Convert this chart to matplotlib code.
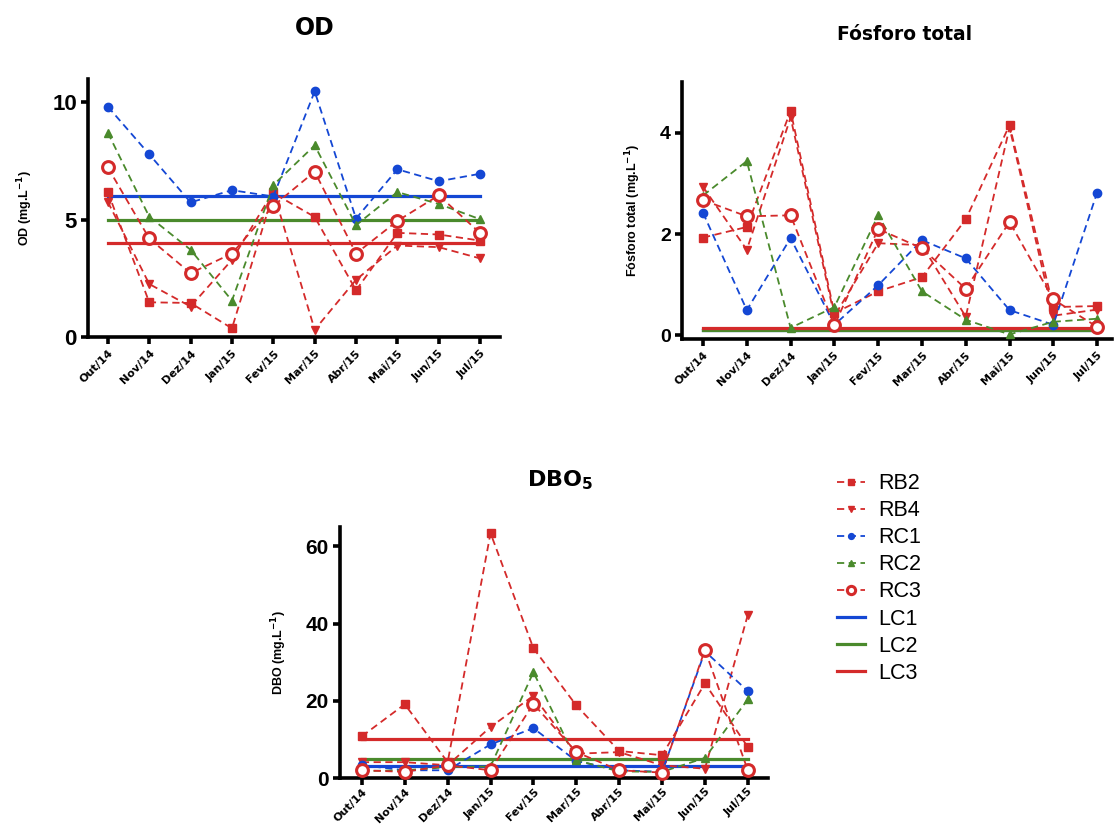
import numpy as np
import matplotlib
matplotlib.use("Agg")
import matplotlib.pyplot as plt

plt.rcParams['font.family'] = ['Liberation Sans', 'DejaVu Sans']

months = ["Out/14", "Nov/14", "Dez/14", "Jan/15", "Fev/15",
          "Mar/15", "Abr/15", "Mai/15", "Jun/15", "Jul/15"]

# OD (mg/L)
od_rb2 = [6.18, 1.48, 1.45, 0.37, 6.13, 5.12, 1.99, 4.44, 4.37, 4.11]
od_rb4 = [5.76, 2.26, 1.30, 3.29, 6.20, 0.31, 2.44, 3.90, 3.83, 3.35]
od_rc1 = [9.82, 7.79, 5.74, 6.26, 5.99, 10.47, 5.05, 7.15, 6.64, 6.96]
od_rc2 = [8.71, 5.13, 3.72, 1.55, 6.48, 8.17, 4.77, 6.18, 5.67, 5.02]
od_rc3 = [7.23, 4.20, 2.72, 3.56, 5.59, 7.05, 3.56, 4.95, 6.04, 4.43]
od_lc = [6, 5, 4]

# Fosforo total (mg/L)
pt_rb2 = [1.93, 2.14, 4.43, 0.44, 0.87, 1.15, 2.29, 4.15, 0.56, 0.58]
pt_rb4 = [2.93, 1.69, 4.30, 0.38, 1.82, 1.78, 0.37, 4.10, 0.39, 0.51]
pt_rc1 = [2.42, 0.50, 1.92, 0.21, 0.99, 1.88, 1.52, 0.50, 0.21, 2.82]
pt_rc2 = [2.76, 3.44, 0.15, 0.56, 2.37, 0.87, 0.31, 0.02, 0.27, 0.33]
pt_rc3 = [2.67, 2.35, 2.37, 0.20, 2.10, 1.72, 0.92, 2.24, 0.71, 0.17]
pt_lc = [0.1, 0.1, 0.15]

# DBO5 (mg/L)
dbo_rb2 = [10.8, 19.1, 4.1, 63.4, 33.6, 18.8, 7.0, 5.9, 24.5, 8.0]
dbo_rb4 = [4.1, 4.1, 3.3, 13.2, 21.3, 6.3, 6.7, 3.3, 2.4, 42.3]
dbo_rc1 = [3.3, 2.0, 2.0, 8.7, 12.9, 4.4, 2.0, 1.6, 32.8, 22.5]
dbo_rc2 = [1.8, 2.0, 2.8, 3.0, 27.4, 4.6, 1.7, 1.6, 5.2, 20.4]
dbo_rc3 = [2.0, 1.6, 3.3, 2.0, 19.2, 6.7, 2.0, 1.4, 33.2, 2.0]
dbo_lc = [3, 5, 10]

red = '#d42a2a'
blue = '#1447d4'
green = '#4a8a2c'

W, H = 1120, 825
fig = plt.figure(figsize=(W / 100, H / 100), dpi=100)


def px_axes(l, t, r, b):
    return fig.add_axes([l / W, 1 - b / H, (r - l) / W, (b - t) / H])


def draw(ax, rb2, rb4, rc1, rc2, rc3, lc, ylim, yticks, ylabel, xlim, ytick_fs, xpad=3):
    x = np.arange(len(months))
    dash = (0, (4, 2.5))
    ax.plot(x, rb2, ls=dash, color=red, marker='s', ms=6, lw=1.3, label='RB2', clip_on=False, zorder=4)
    ax.plot(x, rb4, ls=dash, color=red, marker='v', ms=6, lw=1.3, label='RB4', clip_on=False, zorder=4)
    ax.plot(x, rc1, ls=dash, color=blue, marker='o', ms=6, lw=1.3, label='RC1', clip_on=False, zorder=4)
    ax.plot(x, rc2, ls=dash, color=green, marker='^', ms=6, lw=1.3, label='RC2', clip_on=False, zorder=4)
    ax.plot(x, rc3, ls=dash, color=red, marker='o', ms=8.5, mfc='white', mec=red, mew=2.2, lw=1.3,
            label='RC3', clip_on=False, zorder=4)
    ax.plot([0, 9], [lc[0]] * 2, color=blue, lw=2.3, label='LC1', zorder=3)
    ax.plot([0, 9], [lc[1]] * 2, color=green, lw=2.3, label='LC2', zorder=3)
    ax.plot([0, 9], [lc[2]] * 2, color=red, lw=2.3, label='LC3', zorder=3)
    ax.set_xlim(*xlim)
    ax.set_ylim(*ylim)
    ax.set_yticks(yticks)
    ax.set_xticks(x)
    ax.set_xticklabels(months, rotation=45, ha='right', rotation_mode='anchor',
                       fontsize=8, fontweight='bold', family='DejaVu Sans')
    for t in ax.get_yticklabels():
        t.set_fontweight('bold')
        t.set_fontsize(ytick_fs)
    for s in ['top', 'right']:
        ax.spines[s].set_visible(False)
    for s in ['left', 'bottom']:
        ax.spines[s].set_linewidth(2.6)
    ax.tick_params(width=2.6, length=5, direction='out', pad=3)
    ax.tick_params(axis='x', pad=xpad)
    ax.set_ylabel(ylabel, fontsize=9, fontweight='bold', labelpad=12)


ax1 = px_axes(88, 79, 500, 337)
draw(ax1, od_rb2, od_rb4, od_rc1, od_rc2, od_rc3, od_lc, (0, 11), [0, 5, 10],
     'OD (mg.L$^{\\mathbf{-1}}$)', (-0.48, 9.48), 16)

ax2 = px_axes(682, 82, 1112, 339)
draw(ax2, pt_rb2, pt_rb4, pt_rc1, pt_rc2, pt_rc3, pt_lc, (-0.07, 5), [0, 2, 4],
     'Fósforo total (mg.L$^{\\mathbf{-1}}$)', (-0.48, 9.34), 14)

ax3 = px_axes(340, 527, 768, 778)
draw(ax3, dbo_rb2, dbo_rb4, dbo_rc1, dbo_rc2, dbo_rc3, dbo_lc, (0, 65), [0, 20, 40, 60],
     'DBO (mg.L$^{\\mathbf{-1}}$)', (-0.51, 9.47), 15, xpad=1)

fig.text(315 / W, 1 - 28 / H, 'OD', ha='center', va='center', fontsize=17,
         fontweight='bold', family='DejaVu Sans')
fig.text(905 / W, 1 - 34 / H, 'Fósforo total', ha='center', va='center', fontsize=13.5,
         fontweight='bold', family='DejaVu Sans')
fig.text(560 / W, 1 - 480 / H, 'DBO$_\\mathbf{5}$', ha='center', va='center', fontsize=16,
         fontweight='bold', family='DejaVu Sans')

handles, labels = ax3.get_legend_handles_labels()
fig.legend(handles, labels, loc='upper left', bbox_to_anchor=(818 / W, 1 - 454 / H),
           frameon=False, fontsize=15.5, handlelength=1.3, labelspacing=0.28, handletextpad=0.6,
           markerscale=0.7)

fig.savefig('out.png', dpi=100)
